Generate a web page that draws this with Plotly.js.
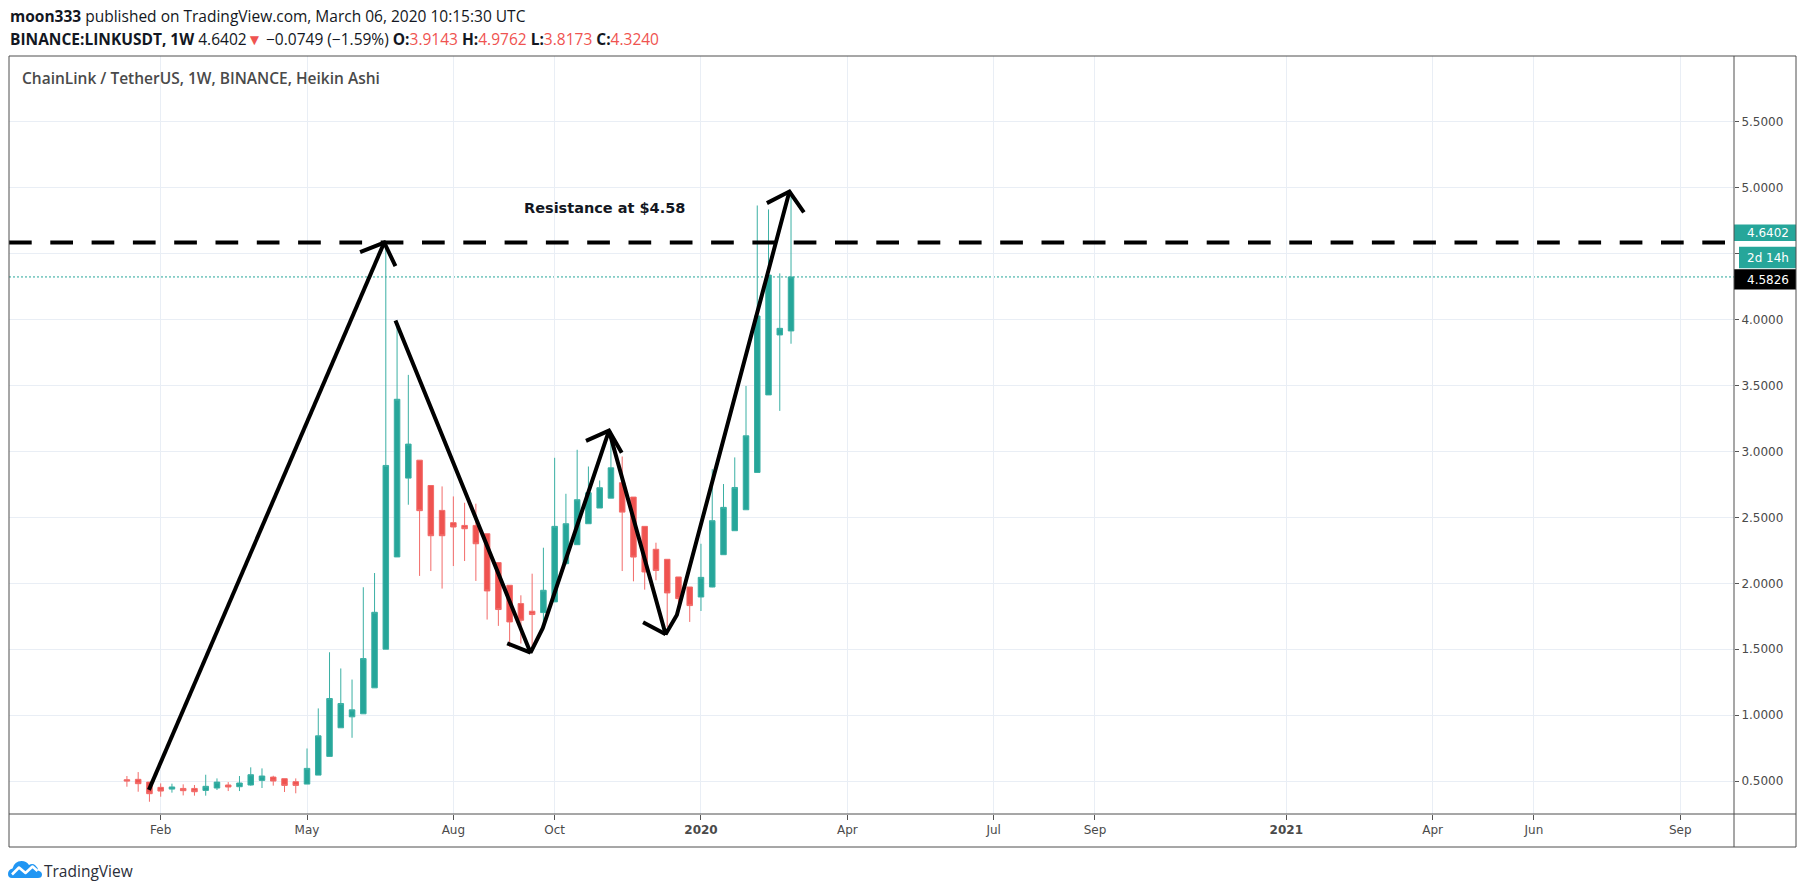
<!DOCTYPE html>
<html>
<head>
<meta charset="utf-8">
<script src="https://cdn.plot.ly/plotly-3.0.1.min.js"></script>
<style>
  html, body { margin: 0; padding: 0; background: #ffffff; }
  #wrap { position: relative; width: 1804px; height: 894px; overflow: hidden; }
  #chart { position: absolute; left: 0; top: 0; width: 1804px; height: 894px; }
  #logo { position: absolute; left: 8px; top: 858px; }
</style>
</head>
<body>
<div id="wrap">
  <div id="chart"></div>
  <svg id="logo" width="34" height="21" viewBox="0 0 34 21">
    <path d="M4,20 Q0,20 0,16 Q0,11.5 4.5,10.5 Q6.5,3 13.5,3 Q18.5,3 21,7 Q24.5,5 27.5,7.5 Q30,9.5 30,12.5 Q34,13.5 34,16.5 Q34,20 30,20 Z" fill="#2196f3"/>
    <polyline points="4,16.5 11,9.5 17.5,15 24.5,8.5 29.5,13" stroke="#ffffff" stroke-width="2.6" fill="none" stroke-linejoin="round"/>
  </svg>
</div>
<script>
// ---------------- DATA (weekly Heikin Ashi candles, LINK/USDT) ----------------
const weekDates = [
  '2019-01-14','2019-01-21','2019-01-28','2019-02-04','2019-02-11','2019-02-18','2019-02-25',
  '2019-03-04','2019-03-11','2019-03-18','2019-03-25','2019-04-01','2019-04-08','2019-04-15',
  '2019-04-22','2019-04-29','2019-05-06','2019-05-13','2019-05-20','2019-05-27','2019-06-03',
  '2019-06-10','2019-06-17','2019-06-24','2019-07-01','2019-07-08','2019-07-15','2019-07-22',
  '2019-07-29','2019-08-05','2019-08-12','2019-08-19','2019-08-26','2019-09-02','2019-09-09',
  '2019-09-16','2019-09-23','2019-09-30','2019-10-07','2019-10-14','2019-10-21','2019-10-28',
  '2019-11-04','2019-11-11','2019-11-18','2019-11-25','2019-12-02','2019-12-09','2019-12-16',
  '2019-12-23','2019-12-30','2020-01-06','2020-01-13','2020-01-20','2020-01-27','2020-02-03',
  '2020-02-10','2020-02-17','2020-02-24','2020-03-02'
];
const openVals = [
  0.510,0.513,0.492,0.452,0.439,0.444,0.444,0.429,0.447,0.470,0.457,0.470,0.505,0.530,
  0.518,0.495,0.477,0.545,0.687,0.904,0.987,1.010,1.207,1.500,2.200,2.798,2.934,2.742,
  2.553,2.460,2.439,2.439,2.376,2.157,1.985,1.846,1.788,1.778,1.859,2.149,2.293,2.452,
  2.571,2.646,2.763,2.654,2.432,2.258,2.182,2.048,1.972,1.896,1.972,2.217,2.399,2.558,
  2.841,3.429,3.884,3.9143
];
const highVals = [
  0.538,0.568,0.492,0.482,0.480,0.475,0.470,0.548,0.520,0.492,0.538,0.604,0.596,0.540,
  0.518,0.520,0.747,1.051,1.477,1.354,1.270,1.970,2.078,4.578,3.987,3.581,2.934,2.742,
  2.735,2.659,2.611,2.604,2.376,2.157,1.985,1.909,2.073,2.270,2.952,2.679,3.013,2.886,
  2.780,3.134,2.962,2.654,2.432,2.308,2.182,2.048,1.972,2.300,2.866,2.753,2.955,3.497,
  4.866,4.836,4.351,4.9762
];
const lowVals = [
  0.457,0.419,0.343,0.381,0.412,0.391,0.389,0.389,0.432,0.424,0.424,0.465,0.447,0.465,
  0.417,0.407,0.477,0.545,0.687,0.904,0.828,1.010,1.207,1.500,2.200,2.596,2.056,2.093,
  1.960,2.131,2.169,2.018,1.725,1.677,1.518,1.543,1.480,1.680,1.859,2.141,2.293,2.452,
  2.571,2.646,2.093,2.015,1.952,2.023,1.669,1.770,1.707,1.790,1.970,2.217,2.399,2.558,
  2.841,3.429,3.308,3.8173
];
const closeVals = [
  0.500,0.480,0.404,0.424,0.455,0.427,0.419,0.460,0.492,0.455,0.485,0.548,0.538,0.500,
  0.467,0.467,0.596,0.843,1.126,1.088,1.040,1.429,1.780,2.894,3.396,3.056,2.551,2.361,
  2.361,2.427,2.414,2.300,1.942,1.801,1.707,1.720,1.763,1.947,2.432,2.452,2.634,2.687,
  2.725,2.876,2.540,2.199,2.086,2.098,1.927,1.884,1.831,2.045,2.475,2.576,2.727,3.119,
  4.028,4.338,3.934,4.3240
];

// time-axis ticks (first weekly bar of each labelled month)
const xTickVals = ['2019-02-04','2019-05-06','2019-08-05','2019-10-07','2020-01-06','2020-04-06',
                   '2020-07-06','2020-09-07','2021-01-04','2021-04-05','2021-06-07','2021-09-06'];
const xTickText = ['Feb','May','Aug','Oct','<b>2020</b>','Apr','Jul','Sep','<b>2021</b>','Apr','Jun','Sep'];
const xRange = ['2018-11-01 16:00','2021-10-09 10:00'];

// price-axis ticks
const yTickVals = [0.5,1.0,1.5,2.0,2.5,3.0,3.5,4.0,4.5,5.0,5.5];
const yTickText = ['0.5000','1.0000','1.5000','2.0000','2.5000','3.0000','3.5000','4.0000','','5.0000','5.5000'];
const yRange = [0.25, 6.0];

// hand-drawn trend lines (date, price)
const trend1X = ['2019-01-27 16:00','2019-06-23'];
const trend1Y = [0.433, 4.585];
const zigzagX = ['2019-06-30','2019-09-22','2019-09-29 14:00','2019-11-09 19:00','2019-12-15','2019-12-22','2020-03-01'];
const zigzagY = [3.993, 1.474, 1.659, 3.158, 1.613, 1.760, 4.972];
const arrowX = ['2019-06-08','2019-06-23','2019-06-30', null,
                '2019-09-07 12:00','2019-09-22', null,
                '2019-10-26 12:00','2019-11-09 19:00','2019-11-17 17:00', null,
                '2019-12-01','2019-12-15', null,
                '2020-02-16','2020-03-01','2020-03-10'];
const arrowY = [4.512, 4.585, 4.406, null,
                1.545, 1.474, null,
                3.080, 3.158, 2.991, null,
                1.704, 1.613, null,
                4.884, 4.972, 4.813];

const resistanceLevel = 4.585;
const resistanceText = 'Resistance at $4.58';
const resistanceTextPos = {x: '2019-11-07', y: 4.85};
const lastClose = 4.3240;
const lastPrice = '4.6402';
const countdown = '2d 14h';
const closeLabel = '4.5826';

// ---------------- LAYOUT HELPERS ----------------
const L = 9, R = 1734, T = 56, B = 814;
const px = x => (x - L) / (R - L);
const py = y => (B - y) / (B - T);
const GREEN = '#26a69a', RED = '#ef5350';
const FRAME = '#4f4f4f';

const traces = [
  {
    type: 'candlestick', x: weekDates, open: openVals, high: highVals, low: lowVals, close: closeVals,
    increasing: {line: {color: '#3bb0a4', width: 1}, fillcolor: GREEN},
    decreasing: {line: {color: '#f26b69', width: 1}, fillcolor: RED},
    whiskerwidth: 0, hoverinfo: 'skip', showlegend: false
  },
  {type: 'scatter', mode: 'lines', x: trend1X, y: trend1Y, line: {color: '#000', width: 4}, hoverinfo: 'skip'},
  {type: 'scatter', mode: 'lines', x: zigzagX, y: zigzagY, line: {color: '#000', width: 4}, hoverinfo: 'skip'},
  {type: 'scatter', mode: 'lines', x: arrowX, y: arrowY, connectgaps: false, line: {color: '#000', width: 4}, hoverinfo: 'skip'}
];

const hdrFont = {family: 'Open Sans, sans-serif', size: 15.5, color: '#131722'};
const redSpan = s => `<span style="color:${RED}">${s}</span>`;

const annotations = [
  {xref: 'paper', yref: 'paper', x: px(8), y: py(16), xanchor: 'left', yanchor: 'middle', showarrow: false,
   text: '<b>moon333</b> published on TradingView.com, March 06, 2020 10:15:30 UTC', font: hdrFont},
  {xref: 'paper', yref: 'paper', x: px(8), y: py(39), xanchor: 'left', yanchor: 'middle', showarrow: false,
   text: '<b>BINANCE:LINKUSDT, 1W</b> 4.6402' + redSpan('▼') + ' −0.0749 (−1.59%) <b>O:</b>' + redSpan('3.9143') +
         ' <b>H:</b>' + redSpan('4.9762') + ' <b>L:</b>' + redSpan('3.8173') + ' <b>C:</b>' + redSpan('4.3240'),
   font: hdrFont},
  {xref: 'paper', yref: 'paper', x: px(20), y: py(78), xanchor: 'left', yanchor: 'middle', showarrow: false,
   text: 'ChainLink / TetherUS, 1W, BINANCE, Heikin Ashi',
   font: {family: 'Open Sans, sans-serif', size: 15.5, color: '#4a4a4a', weight: 600}},
  {xref: 'x', yref: 'y', x: resistanceTextPos.x, y: resistanceTextPos.y, xanchor: 'center', yanchor: 'middle', showarrow: false,
   text: '<b>' + resistanceText + '</b>', font: {family: 'DejaVu Sans, sans-serif', size: 14.5, color: '#131722'}},
  {xref: 'paper', yref: 'paper', x: px(1745), y: py(233), xanchor: 'left', yanchor: 'middle', showarrow: false,
   text: lastPrice, font: {family: 'DejaVu Sans, sans-serif', size: 12, color: '#ffffff'}},
  {xref: 'paper', yref: 'paper', x: px(1745), y: py(257.5), xanchor: 'left', yanchor: 'middle', showarrow: false,
   text: countdown, font: {family: 'DejaVu Sans, sans-serif', size: 12, color: '#ffffff'}},
  {xref: 'paper', yref: 'paper', x: px(1745), y: py(279.5), xanchor: 'left', yanchor: 'middle', showarrow: false,
   text: closeLabel, font: {family: 'DejaVu Sans, sans-serif', size: 12, color: '#ffffff'}},
  {xref: 'paper', yref: 'paper', x: px(42), y: py(870.5), xanchor: 'left', yanchor: 'middle', showarrow: false,
   text: 'TradingView', font: {family: 'Open Sans, sans-serif', size: 15.5, color: '#2a2e39'}}
];

const frameLine = (x0, y0, x1, y1) => ({type: 'line', xref: 'paper', yref: 'paper', x0: px(x0), y0: py(y0), x1: px(x1), y1: py(y1),
  line: {color: FRAME, width: 1}, layer: 'above'});

const shapes = [
  {type: 'line', xref: 'paper', yref: 'y', x0: 0, x1: 1, y0: lastClose, y1: lastClose,
   line: {color: GREEN, width: 1, dash: '2px,2px'}, layer: 'below'},
  {type: 'line', xref: 'paper', yref: 'y', x0: 0, x1: 1, y0: resistanceLevel, y1: resistanceLevel,
   line: {color: '#000000', width: 4, dash: '22.7px,18.6px'}, layer: 'above'},
  {type: 'rect', xref: 'paper', yref: 'paper', x0: px(1734), x1: px(1796), y0: py(241), y1: py(224.5),
   fillcolor: GREEN, line: {width: 0}, layer: 'above'},
  {type: 'rect', xref: 'paper', yref: 'paper', x0: px(1739), x1: px(1796), y0: py(268.3), y1: py(246.7),
   fillcolor: GREEN, line: {width: 0}, layer: 'above'},
  {type: 'rect', xref: 'paper', yref: 'paper', x0: px(1734), x1: px(1796), y0: py(289.5), y1: py(269.3),
   fillcolor: '#000000', line: {width: 0}, layer: 'above'},
  frameLine(9, 56, 1796, 56),
  frameLine(9, 847, 1796, 847),
  frameLine(9, 56, 9, 847),
  frameLine(1796, 56, 1796, 847),
  frameLine(1734, 56, 1734, 847),
  frameLine(9, 814, 1796, 814)
];

const layout = {
  width: 1804, height: 894,
  margin: {l: L, r: 1804 - R, t: T, b: 894 - B, pad: 0},
  paper_bgcolor: '#ffffff', plot_bgcolor: '#ffffff',
  showlegend: false, hovermode: false, dragmode: false,
  xaxis: {
    type: 'date', range: xRange, tickmode: 'array', tickvals: xTickVals, ticktext: xTickText,
    showgrid: true, gridcolor: '#e9eef5', gridwidth: 1, zeroline: false, showline: false,
    ticks: 'outside', ticklen: 5, tickcolor: '#555', tickwidth: 1,
    tickfont: {family: 'DejaVu Sans, sans-serif', size: 12, color: '#4a4a4a'},
    rangeslider: {visible: false}, fixedrange: true
  },
  yaxis: {
    side: 'right', range: yRange, tickmode: 'array', tickvals: yTickVals, ticktext: yTickText,
    showgrid: true, gridcolor: '#e9eef5', gridwidth: 1, zeroline: false, showline: false,
    ticks: 'outside', ticklen: 4, tickcolor: '#555', tickwidth: 1,
    tickfont: {family: 'DejaVu Sans, sans-serif', size: 12, color: '#4a4a4a'},
    fixedrange: true
  },
  shapes: shapes,
  annotations: annotations
};

Plotly.newPlot('chart', traces, layout, {displayModeBar: false, staticPlot: true, responsive: false});
</script>
</body>
</html>
